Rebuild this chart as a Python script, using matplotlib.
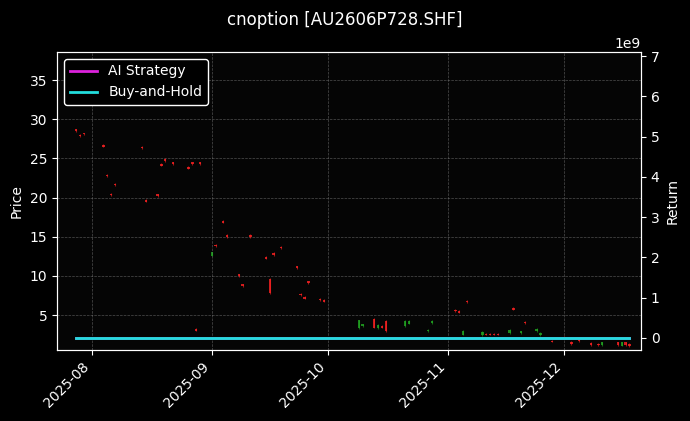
import numpy as np
import pandas as pd
import matplotlib
matplotlib.use('Agg')
import matplotlib.pyplot as plt
import matplotlib.dates as mdates

# Daily option prices
dates = ['2025-07-28', '2025-07-29', '2025-07-30', '2025-08-04', '2025-08-05', '2025-08-06',
         '2025-08-07', '2025-08-14', '2025-08-15', '2025-08-18', '2025-08-19', '2025-08-20',
         '2025-08-22', '2025-08-26', '2025-08-27', '2025-08-28', '2025-08-29', '2025-09-01',
         '2025-09-02', '2025-09-04', '2025-09-05', '2025-09-08', '2025-09-09', '2025-09-11',
         '2025-09-15', '2025-09-16', '2025-09-17', '2025-09-19', '2025-09-23', '2025-09-24',
         '2025-09-25', '2025-09-26', '2025-09-29', '2025-09-30', '2025-10-09', '2025-10-10',
         '2025-10-13', '2025-10-14', '2025-10-15', '2025-10-16', '2025-10-21', '2025-10-22',
         '2025-10-27', '2025-10-28', '2025-11-03', '2025-11-04', '2025-11-05', '2025-11-06',
         '2025-11-10', '2025-11-11', '2025-11-12', '2025-11-13', '2025-11-14', '2025-11-17',
         '2025-11-18', '2025-11-20', '2025-11-21', '2025-11-24', '2025-11-25', '2025-11-28',
         '2025-12-01', '2025-12-03', '2025-12-05', '2025-12-08', '2025-12-10', '2025-12-11',
         '2025-12-15', '2025-12-16', '2025-12-17', '2025-12-18']
opens = [28.7, 28.0, 28.2, 26.7, 22.9, 20.5, 21.8, 26.5, 19.7, 20.4, 24.3, 24.9,
         24.5, 23.9, 24.5, 3.2, 24.5, 12.6, 14.0, 17.0, 15.2, 10.2, 8.9, 15.2,
         12.4, 9.6, 12.9, 13.7, 11.2, 7.7, 7.3, 9.3, 7.1, 6.9, 3.3, 3.6,
         4.5, 3.3, 3.6, 4.2, 3.6, 3.9, 2.9, 4.0, 5.7, 5.5, 2.5, 6.8,
         2.4, 2.6, 2.6, 2.6, 2.6, 2.7, 5.9, 2.7, 4.1, 2.9, 2.4, 1.7,
         2.2, 1.6, 1.9, 1.4, 1.3, 1.2, 1.5, 1.1, 1.5, 1.3]
closes = [28.5, 27.9, 28.1, 26.5, 22.7, 20.3, 21.6, 26.3, 19.5, 20.2, 24.1, 24.7,
          24.3, 23.7, 24.3, 3.0, 24.3, 13.0, 13.8, 16.8, 15.0, 10.0, 8.7, 15.0,
          12.2, 7.8, 12.7, 13.5, 11.0, 7.5, 7.1, 9.1, 6.9, 6.7, 4.3, 3.8,
          3.4, 3.7, 3.4, 2.9, 4.2, 4.2, 3.1, 4.2, 5.5, 5.3, 3.0, 6.6,
          2.8, 2.5, 2.5, 2.5, 2.5, 3.1, 5.7, 2.9, 4.0, 3.2, 2.7, 1.6,
          2.0, 1.3, 1.7, 1.2, 1.2, 1.5, 1.2, 1.5, 1.2, 1.0]
highs = [max(o, c) + 0.1 for o, c in zip(opens, closes)]
lows = [min(o, c) - 0.1 for o, c in zip(opens, closes)]

# Strategy returns (flat near zero on the 1e9 scale)
strategy_ret = [0.0] * len(dates)
buyhold_ret = [0.0] * len(dates)

df = pd.DataFrame({'open': opens, 'high': highs, 'low': lows, 'close': closes},
                  index=pd.to_datetime(dates))

plt.style.use('dark_background')
fig = plt.figure(figsize=(6.9, 4.21), dpi=100, facecolor='black')
ax = fig.add_axes([57 / 690, 71 / 421, 584 / 690, 298 / 421])
ax.set_facecolor('#050505')

# Candles
x = mdates.date2num(df.index)
up = df.close >= df.open
colors = np.where(up, '#22aa22', '#ff2222')
ax.vlines(x, df.low, df.high, colors=colors, linewidth=0.8, alpha=0.6)
ax.bar(x, (df.close - df.open).abs(), bottom=df[['open', 'close']].min(axis=1),
       width=0.6, color=colors, alpha=0.8)

ax.set_ylim(0.53, 38.6)
ax.set_xlim(mdates.datestr2num('2025-07-23'), mdates.datestr2num('2025-12-21'))
ax.set_ylabel('Price')
ax.grid(True, color='gray', linestyle='--', linewidth=0.5, alpha=0.6)
ax.xaxis.set_major_locator(mdates.MonthLocator())
ax.xaxis.set_major_formatter(mdates.DateFormatter('%Y-%m'))
plt.setp(ax.get_xticklabels(), rotation=45, ha='right')

# Returns on twin axis
ax2 = ax.twinx()
ax2.plot(df.index, strategy_ret, color='#dd22dd', linewidth=2, label='AI Strategy')
ax2.plot(df.index, buyhold_ret, color='#22dddd', linewidth=2, label='Buy-and-Hold')
ax2.set_ylim(-0.3e9, 7.1e9)
ax2.set_ylabel('Return')
ax2.legend(loc='upper left', facecolor='black', edgecolor='white', framealpha=1)

fig.suptitle('cnoption [AU2606P728.SHF]', y=0.975, fontsize=12)
fig.savefig('out.png', dpi=100, facecolor='black')
